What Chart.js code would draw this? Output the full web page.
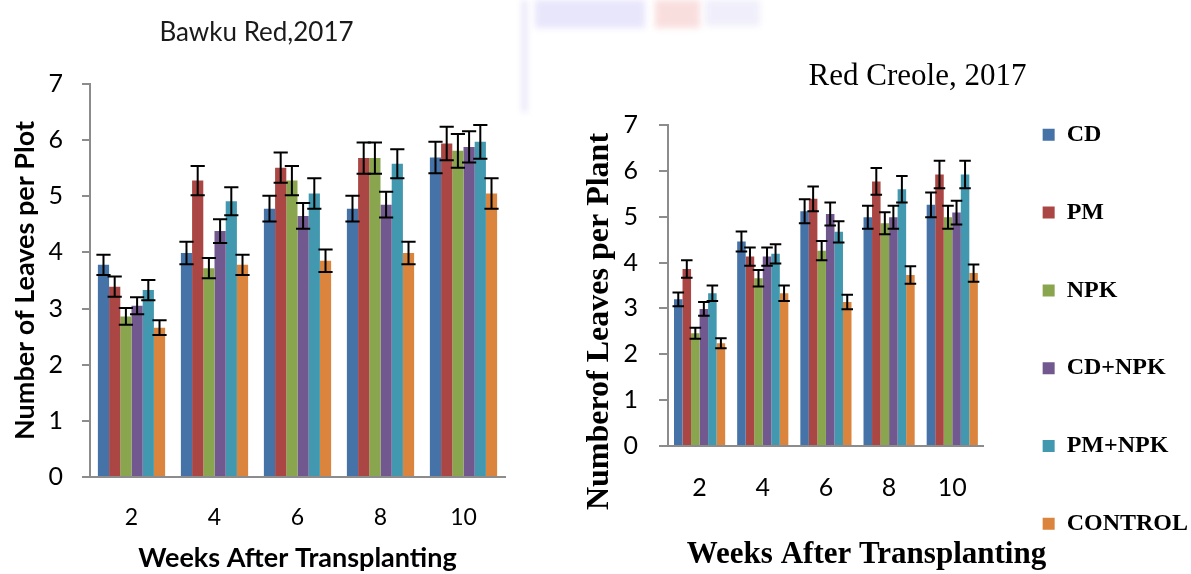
<!DOCTYPE html>
<html lang="en">
    <head>
        <meta charset="UTF-8" />
        <title>Number of leaves - Bawku Red and Red Creole</title>
        <script src="https://cdn.jsdelivr.net/npm/chart.js@4"></script>
    </head>
    <body>
        <style>
            * {
                padding: 0;
                margin: 0;
                box-sizing: border-box;
            }

            body {
                width: 1191px;
                height: 574px;
                position: relative;
                background-color: #ffffff;
                overflow: hidden;
            }

            .panel {
                position: absolute;
                top: 0;
            }

            #leftChart {
                left: 0;
            }

            #rightChart {
                left: 540px;
            }

            /* faint watermark left over in the scanned figure */
            .mark {
                position: absolute;
                filter: blur(3px);
            }
        </style>

        <div class="mark" style="left: 522px; top: 0; width: 5px; height: 112px; background: #e6e4f8"></div>
        <div class="mark" style="left: 535px; top: 0; width: 110px; height: 28px; background: #e2e0fa; opacity: 0.8"></div>
        <div class="mark" style="left: 655px; top: 0; width: 45px; height: 28px; background: #f8d6d6; opacity: 0.8"></div>
        <div class="mark" style="left: 705px; top: 0; width: 55px; height: 26px; background: #ecebfa; opacity: 0.8"></div>

        <canvas id="leftChart" class="panel" width="540" height="574"></canvas>
        <canvas id="rightChart" class="panel" width="651" height="574"></canvas>

        <script>
            const weeks = ["2", "4", "6", "8", "10"];
            const treatments = ["CD", "PM", "NPK", "CD+NPK", "PM+NPK", "CONTROL"];

            // Bawku Red, 2017 - mean leaves per plot, one row per treatment
            const bawkuMeans = [
                [3.78, 3.99, 4.78, 4.78, 5.69],
                [3.39, 5.28, 5.51, 5.68, 5.94],
                [2.86, 3.72, 5.28, 5.68, 5.81],
                [3.05, 4.38, 4.65, 4.85, 5.88],
                [3.33, 4.91, 5.05, 5.58, 5.97],
                [2.66, 3.78, 3.85, 3.99, 5.05],
            ];
            const bawkuErrors = [
                [0.18, 0.2, 0.23, 0.23, 0.28],
                [0.18, 0.26, 0.27, 0.28, 0.3],
                [0.15, 0.18, 0.26, 0.28, 0.3],
                [0.15, 0.21, 0.23, 0.23, 0.28],
                [0.18, 0.25, 0.27, 0.26, 0.3],
                [0.13, 0.18, 0.2, 0.2, 0.27],
            ];

            // Red Creole, 2017 - mean leaves per plant
            const creoleMeans = [
                [3.2, 4.46, 5.12, 4.99, 5.26],
                [3.86, 4.13, 5.39, 5.77, 5.92],
                [2.46, 3.66, 4.26, 4.86, 4.99],
                [2.99, 4.13, 5.06, 4.99, 5.09],
                [3.33, 4.19, 4.67, 5.6, 5.92],
                [2.24, 3.33, 3.14, 3.73, 3.77],
            ];
            const creoleErrors = [
                [0.15, 0.22, 0.26, 0.25, 0.27],
                [0.19, 0.2, 0.27, 0.29, 0.3],
                [0.12, 0.18, 0.21, 0.24, 0.25],
                [0.15, 0.2, 0.25, 0.25, 0.26],
                [0.17, 0.21, 0.23, 0.29, 0.3],
                [0.11, 0.17, 0.16, 0.19, 0.19],
            ];

            const yTicks = [0, 1, 2, 3, 4, 5, 6, 7];

            const colors = ["#4572A7", "#AA4643", "#89A54E", "#71588F", "#4198AF", "#DB843D"];
            const axisGray = "#8c8c8c";

            // draws +/- error whiskers on top of every bar
            const errorBarsPlugin = {
                id: "errorBars",
                afterDatasetsDraw(chart, args, opts) {
                    const ctx = chart.ctx;
                    const yScale = chart.scales.y;
                    ctx.save();
                    ctx.strokeStyle = "#000000";
                    ctx.lineWidth = opts.lineWidth || 2;
                    chart.data.datasets.forEach((ds, i) => {
                        const meta = chart.getDatasetMeta(i);
                        meta.data.forEach((bar, j) => {
                            const v = ds.data[j];
                            const e = ds.errors[j];
                            const top = yScale.getPixelForValue(v + e);
                            const bottom = yScale.getPixelForValue(v - e);
                            const half = bar.width / 2 + (opts.capExtra || 1.5);
                            ctx.beginPath();
                            ctx.moveTo(bar.x, top);
                            ctx.lineTo(bar.x, bottom);
                            ctx.moveTo(bar.x - half, top);
                            ctx.lineTo(bar.x + half, top);
                            ctx.moveTo(bar.x - half, bottom);
                            ctx.lineTo(bar.x + half, bottom);
                            ctx.stroke();
                        });
                    });
                    ctx.restore();
                },
            };

            // the chart titles are not centred over the canvas in the figure,
            // and the legend column sits lower / further right than chart.js puts it
            const titleShiftPlugin = {
                id: "titleShift",
                afterLayout(chart, args, opts) {
                    const t = chart.titleBlock;
                    if (t && opts.center !== undefined) {
                        t.left = 2 * opts.center - t.right;
                    }
                    const legend = chart.legend;
                    if (legend && opts.legendTop !== undefined) {
                        const dy = opts.legendTop - legend.top;
                        legend.top += dy;
                        legend.bottom += dy;
                        legend.left += opts.legendDx || 0;
                        legend.right += opts.legendDx || 0;
                    }
                },
            };

            function makeDatasets(means, errors) {
                return treatments.map((name, i) => ({
                    label: name,
                    data: means[i],
                    errors: errors[i],
                    backgroundColor: colors[i],
                    borderWidth: 0,
                    categoryPercentage: 0.81,
                    barPercentage: 1.0,
                }));
            }

            function yAxis(opts) {
                return {
                    min: 0,
                    max: 7,
                    afterBuildTicks: (scale) => {
                        scale.ticks = yTicks.map((v) => ({ value: v }));
                    },
                    afterFit: (scale) => {
                        scale.width = opts.width;
                    },
                    border: { color: axisGray, width: 2 },
                    grid: {
                        drawOnChartArea: false,
                        drawTicks: true,
                        tickLength: opts.tickLength,
                        color: axisGray,
                        lineWidth: 2,
                    },
                    ticks: {
                        color: "#000000",
                        padding: opts.tickPadding,
                        font: { family: "Lato", size: opts.tickSize },
                    },
                    title: {
                        display: true,
                        text: opts.title,
                        color: "#000000",
                        font: opts.titleFont,
                        padding: { top: opts.titlePad, bottom: 0 },
                    },
                };
            }

            function xAxis(opts) {
                return {
                    afterFit: (scale) => {
                        scale.height = opts.height;
                    },
                    border: { color: axisGray, width: 2 },
                    grid: { drawOnChartArea: false, drawTicks: false },
                    ticks: {
                        color: "#000000",
                        padding: opts.tickPadding,
                        font: { family: "Lato", size: opts.tickSize },
                    },
                    title: {
                        display: !!opts.title,
                        text: opts.title || "",
                        color: "#000000",
                        font: opts.titleFont,
                        padding: { top: 0, bottom: opts.titlePad },
                    },
                };
            }

            // ---- Bawku Red ----
            new Chart(document.getElementById("leftChart"), {
                type: "bar",
                data: { labels: weeks, datasets: makeDatasets(bawkuMeans, bawkuErrors) },
                plugins: [errorBarsPlugin, titleShiftPlugin],
                options: {
                    responsive: false,
                    animation: false,
                    layout: { padding: { left: 0, right: 35, top: 0, bottom: 0 } },
                    plugins: {
                        legend: { display: false },
                        tooltip: { enabled: false },
                        errorBars: { lineWidth: 2, capExtra: 1.5 },
                        titleShift: { center: 256.5 },
                        title: {
                            display: true,
                            text: "Bawku Red,2017",
                            color: "#1a1a1a",
                            font: { family: "Lato", size: 26, weight: "normal" },
                            padding: { top: 17, bottom: 35.8 },
                        },
                    },
                    scales: {
                        x: xAxis({
                            height: 97,
                            tickPadding: 27,
                            tickSize: 23,
                            title: "Weeks After Transplanting",
                            titleFont: { family: "Lato", size: 27, weight: "bold" },
                            titlePad: 0,
                        }),
                        y: yAxis({
                            width: 90,
                            tickLength: 8,
                            tickPadding: 19,
                            tickSize: 25,
                            title: "Number of Leaves per Plot",
                            titleFont: { family: "Lato", size: 27, weight: "bold" },
                            titlePad: 9,
                        }),
                    },
                },
            });

            // ---- Red Creole ----
            new Chart(document.getElementById("rightChart"), {
                type: "bar",
                data: { labels: weeks, datasets: makeDatasets(creoleMeans, creoleErrors) },
                plugins: [errorBarsPlugin, titleShiftPlugin],
                options: {
                    responsive: false,
                    animation: false,
                    layout: { padding: { left: 0, right: -2, top: 0, bottom: 0 } },
                    plugins: {
                        tooltip: { enabled: false },
                        errorBars: { lineWidth: 2, capExtra: 1.5 },
                        titleShift: { center: 377.5, legendTop: 69, legendDx: 5 },
                        title: {
                            display: true,
                            text: "Red Creole, 2017",
                            color: "#000000",
                            font: { family: "Liberation Serif", size: 31, weight: "normal" },
                            padding: { top: 58.4, bottom: 29.4 },
                        },
                        // the x-axis title is wider than the plot, so it goes in the
                        // full-width subtitle box under the axis instead
                        subtitle: {
                            display: true,
                            position: "bottom",
                            text: "Weeks After Transplanting",
                            color: "#000000",
                            font: { family: "Liberation Serif", size: 31, weight: "bold" },
                            padding: { top: 4, bottom: 0 },
                        },
                        legend: {
                            display: true,
                            position: "right",
                            align: "start",
                            maxWidth: 260,
                            labels: {
                                boxWidth: 12,
                                boxHeight: 12,
                                color: "#000000",
                                padding: 53.8,
                                font: { family: "Liberation Serif", size: 24, weight: "bold" },
                            },
                        },
                    },
                    scales: {
                        x: xAxis({
                            height: 86.8,
                            tickPadding: 27,
                            tickSize: 25,
                        }),
                        y: yAxis({
                            width: 128,
                            tickLength: 9,
                            tickPadding: 21,
                            tickSize: 25,
                            // trailing spaces push the rotated title below the plot centre
                            title: "Numberof Leaves per Plant         ",
                            titleFont: { family: "Liberation Serif", size: 32, weight: "bold" },
                            titlePad: 41,
                        }),
                    },
                },
            });
        </script>
    </body>
</html>
